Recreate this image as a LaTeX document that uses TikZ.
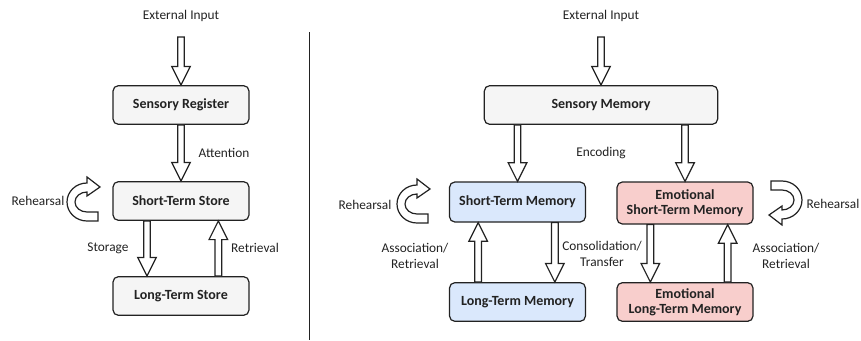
\documentclass[tikz,border=0pt]{standalone}
\usepackage{fontspec}
\setmainfont{Carlito}
\usetikzlibrary{calc}

\definecolor{boxgray}{HTML}{F5F5F5}
\definecolor{stmblue}{HTML}{DAE8FC}
\definecolor{emored}{HTML}{F8CECC}
\definecolor{ink}{HTML}{222222}

\begin{document}
\begin{tikzpicture}[x=0.75pt,y=-0.75pt,
  every node/.style={font=\fontsize{10}{12}\selectfont, text=ink},
  memory/.style={draw=ink, line width=0.9pt, rounded corners=4pt,
    minimum width=102pt, minimum height=29pt, align=center,
    font=\fontsize{10.5}{11.5}\selectfont\bfseries},
  plainbox/.style={memory, fill=boxgray},
  bluebox/.style={memory, fill=stmblue},
  redbox/.style={memory, fill=emored},
  flowline/.style={draw=ink, fill=white, line width=0.9pt, line join=miter},
  flow/.style={flowline,
    to path={let \p1=(\tikztostart), \p2=(\tikztotarget),
      \n1={ifthenelse(\y2>\y1,1,-1)} in
      ({\x1-2.5pt},\y1) -- ({\x1-2.5pt},{\y2-(\n1)*14pt})
      -- ({\x1-7pt},{\y2-(\n1)*14pt}) -- (\x1,\y2)
      -- ({\x1+7pt},{\y2-(\n1)*14pt}) -- ({\x1+2.5pt},{\y2-(\n1)*14pt})
      -- ({\x1+2.5pt},\y1) -- cycle}},
  rehearse/.pic={
    \draw[flowline] (13,-15) -- (0,-25) -- (0,-19)
      arc[start angle=270, end angle=90, x radius=20, y radius=19]
      -- (11,19) -- (11,10) -- (0,10)
      arc[start angle=90, end angle=270, x radius=12, y radius=10]
      -- (0,-6) -- cycle;
  }]
  \useasboundingbox (0,0) rectangle (861,340);

  % classic model
  \node (ext1) at (181,16) {External Input};
  \node[plainbox] (sr) at (181,105) {Sensory Register};
  \node[plainbox] (sts) at (181,201) {Short-Term Store};
  \node[plainbox] (lts) at (181,296) {Long-Term Store};
  \draw[flow] ([yshift=-8pt]ext1.south) to (sr.north);
  \draw[flow] (sr.south) to (sts.north);
  \draw[flow] ([xshift=-25.5pt]sts.south) to ([xshift=-25.5pt]lts.north);
  \draw[flow] ([xshift=28pt]lts.north) to ([xshift=28pt]sts.south);
  \node at (224,153) {Attention};
  \node at (108,248) {Storage};
  \node at (255,248) {Retrieval};
  \pic at (87,202) {rehearse};
  \node at (38,201) {Rehearsal};

  \coordinate (top) at (309,32);
  \coordinate (bottom) at (309,340);
  \draw[ink, line width=0.6pt] (top) -- (bottom);

  % emotional model
  \node (ext2) at (601,16) {External Input};
  \node[plainbox, minimum width=175pt] (sm) at (601,105) {Sensory Memory};
  \node[bluebox, minimum height=30pt] (stm) at (517.5,202) {Short-Term Memory};
  \node[redbox, minimum height=31.5pt] (estm) at (685,203) {Emotional\\Short-Term Memory};
  \node[bluebox] (ltm) at (517.5,302) {Long-Term Memory};
  \node[redbox] (eltm) at (685,302) {Emotional\\Long-Term Memory};
  \draw[flow] ([yshift=-8pt]ext2.south) to (sm.north);
  \draw[flow] (stm.north |- sm.south) to (stm.north);
  \draw[flow] (estm.north |- sm.south) to (estm.north);
  \draw[flow] ([xshift=-29.5pt]ltm.north) to ([xshift=-29.5pt]stm.south);
  \draw[flow] ([xshift=28pt]stm.south) to ([xshift=28pt]ltm.north);
  \draw[flow] ([xshift=-26pt]estm.south) to ([xshift=-26pt]eltm.north);
  \draw[flow] ([xshift=32pt]eltm.north) to ([xshift=32pt]estm.south);
  \node at (601,153) {Encoding};
  \node[align=center] at (415,256) {Association/\\Retrieval};
  \node[align=center] at (602,254) {Consolidation/\\Transfer};
  \node[align=center] at (786,256) {Association/\\Retrieval};
  \pic at (417,204) {rehearse};
  \node at (365,205) {Rehearsal};
  \pic[rotate=180] at (782,200) {rehearse};
  \node at (833,204) {Rehearsal};
\end{tikzpicture}
\end{document}
